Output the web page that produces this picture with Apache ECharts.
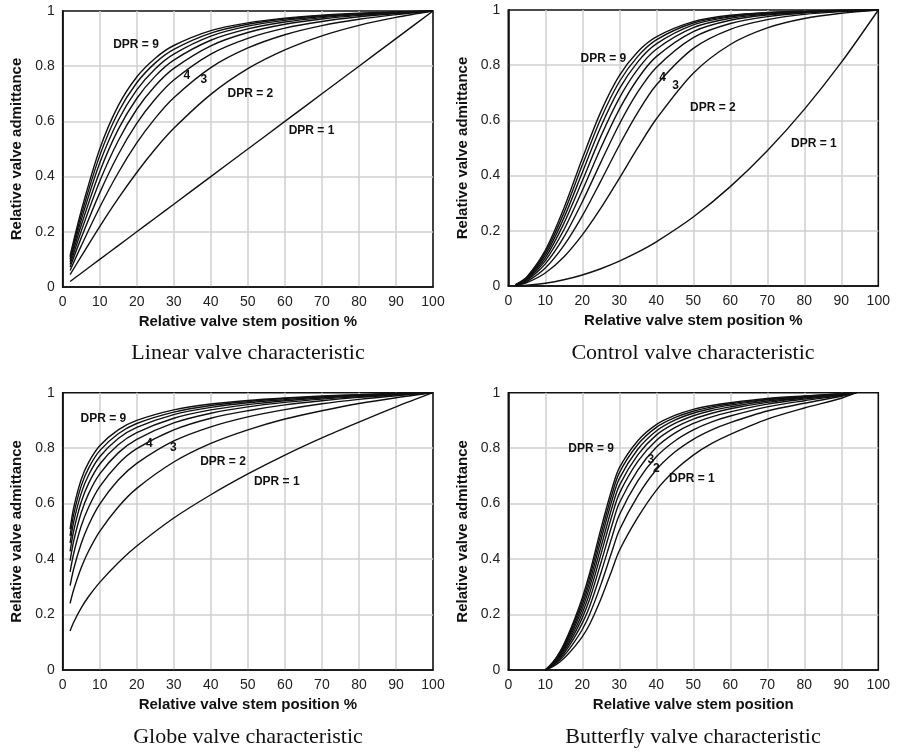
<!DOCTYPE html>
<html>
<head>
<meta charset="utf-8">
<script src="https://cdn.jsdelivr.net/npm/echarts@6/dist/echarts.min.js"></script>
<style>
html,body{margin:0;padding:0;background:#fff;}
#chart{width:898px;height:752px;}
</style>
</head>
<body>
<div id="chart"></div>
<script>
// ---------- data ----------
const xTicks = [0,10,20,30,40,50,60,70,80,90,100];
const yTicks = [0,0.2,0.4,0.6,0.8,1];

// Linear valve characteristic
const linX = [2,5,10,15,20,25,30,40,50,60,70,80,90,100];
const lin1 = [0.02,0.05,0.1,0.15,0.2,0.25,0.3,0.4,0.5,0.6,0.7,0.8,0.9,1];
const lin2 = [0.045,0.111,0.219,0.321,0.415,0.5,0.575,0.698,0.791,0.859,0.910,0.948,0.977,1];
const lin3 = [0.060,0.149,0.289,0.414,0.522,0.612,0.686,0.795,0.866,0.914,0.947,0.970,0.987,1];
const lin4 = [0.072,0.178,0.341,0.480,0.593,0.681,0.750,0.844,0.901,0.938,0.962,0.979,0.991,1];
const lin5 = [0.082,0.202,0.383,0.530,0.644,0.729,0.792,0.874,0.922,0.952,0.971,0.984,0.993,1];
const lin6 = [0.091,0.224,0.418,0.571,0.683,0.764,0.822,0.894,0.935,0.960,0.976,0.987,0.995,1];
const lin7 = [0.100,0.243,0.449,0.604,0.714,0.791,0.844,0.909,0.945,0.966,0.980,0.989,0.995,1];
const lin8 = [0.107,0.260,0.476,0.633,0.740,0.812,0.861,0.920,0.952,0.971,0.983,0.990,0.996,1];
const lin9 = [0.114,0.276,0.500,0.657,0.761,0.829,0.875,0.929,0.957,0.974,0.985,0.992,0.997,1];
const linNotes = [['DPR = 9',19.8,0.879],['4',33.5,0.764],['3',38.1,0.750],['DPR = 2',50.7,0.700],['DPR = 1',67.2,0.565]];

// Control valve characteristic
const ctlX = [2,5,10,15,20,25,30,35,40,50,60,70,80,90,100];
const ctl1 = [0.0004,0.0025,0.01,0.0225,0.04,0.0625,0.09,0.1225,0.16,0.25,0.36,0.49,0.64,0.81,1];
const ctl2 = [0.002,0.012,0.047,0.105,0.185,0.282,0.390,0.501,0.605,0.771,0.875,0.935,0.969,0.988,1];
const ctl3 = [0.003,0.016,0.065,0.146,0.254,0.380,0.510,0.629,0.728,0.861,0.930,0.965,0.984,0.994,1];
const ctl4 = [0.003,0.020,0.080,0.177,0.305,0.448,0.586,0.703,0.792,0.900,0.951,0.976,0.989,0.996,1];
const ctl5 = [0.004,0.023,0.092,0.203,0.346,0.500,0.640,0.751,0.831,0.922,0.963,0.982,0.992,0.997,1];
const ctl6 = [0.004,0.026,0.102,0.226,0.381,0.542,0.681,0.786,0.858,0.936,0.970,0.985,0.993,0.998,1];
const ctl7 = [0.005,0.028,0.112,0.246,0.411,0.577,0.714,0.812,0.877,0.946,0.975,0.988,0.994,0.998,1];
const ctl8 = [0.005,0.030,0.121,0.264,0.438,0.606,0.740,0.832,0.892,0.953,0.978,0.990,0.995,0.998,1];
const ctl9 = [0.005,0.033,0.129,0.281,0.462,0.631,0.762,0.849,0.903,0.958,0.981,0.991,0.996,0.999,1];
const ctlNotes = [['DPR = 9',25.7,0.822],['4',41.7,0.756],['3',45.2,0.725],['DPR = 2',55.3,0.646],['DPR = 1',82.6,0.514]];

// Globe valve characteristic
const glbX = [2,3,5,7,10,15,20,30,40,50,60,70,80,90,100];
const glb1 = [0.141,0.173,0.224,0.265,0.316,0.387,0.447,0.548,0.632,0.707,0.775,0.837,0.894,0.949,1];
const glb2 = [0.240,0.291,0.369,0.429,0.500,0.588,0.655,0.750,0.817,0.866,0.905,0.935,0.961,0.982,1];
const glb3 = [0.304,0.366,0.456,0.523,0.598,0.685,0.745,0.826,0.877,0.913,0.939,0.960,0.976,0.989,1];
const glb4 = [0.354,0.422,0.519,0.587,0.661,0.743,0.798,0.866,0.908,0.935,0.956,0.971,0.983,0.992,1];
const glb5 = [0.394,0.467,0.567,0.636,0.707,0.783,0.832,0.891,0.926,0.949,0.965,0.977,0.986,0.994,1];
const glb6 = [0.428,0.504,0.606,0.673,0.742,0.812,0.856,0.908,0.938,0.957,0.971,0.981,0.989,0.995,1];
const glb7 = [0.458,0.536,0.637,0.703,0.769,0.835,0.875,0.921,0.947,0.964,0.975,0.984,0.991,0.996,1];
const glb8 = [0.484,0.563,0.664,0.728,0.791,0.852,0.889,0.930,0.954,0.968,0.979,0.986,0.992,0.996,1];
const glb9 = [0.508,0.587,0.687,0.749,0.809,0.866,0.900,0.938,0.959,0.972,0.981,0.988,0.993,0.997,1];
const glbNotes = [['DPR = 9',11.0,0.906],['4',23.4,0.816],['3',29.9,0.800],['DPR = 2',43.3,0.750],['DPR = 1',57.8,0.678]];

// Butterfly valve characteristic
const bfyX = [10,12,14,16,18,20,22,25,28,30,35,40,45,50,55,60,70,80,90,94];
const bfy1 = [0,0.012,0.030,0.055,0.085,0.120,0.165,0.255,0.360,0.430,0.550,0.648,0.720,0.775,0.817,0.850,0.905,0.945,0.980,1];
const bfy2 = [0,0.015,0.037,0.067,0.104,0.146,0.201,0.307,0.427,0.504,0.628,0.722,0.786,0.832,0.866,0.892,0.934,0.962,0.987,1];
const bfy3 = [0,0.017,0.042,0.078,0.120,0.169,0.230,0.349,0.479,0.559,0.682,0.769,0.826,0.866,0.895,0.916,0.949,0.971,0.990,1];
const bfy4 = [0,0.019,0.047,0.087,0.134,0.188,0.256,0.385,0.521,0.602,0.721,0.803,0.854,0.889,0.913,0.931,0.959,0.977,0.992,1];
const bfy5 = [0,0.021,0.052,0.095,0.146,0.205,0.278,0.416,0.556,0.636,0.752,0.828,0.874,0.905,0.926,0.942,0.965,0.981,0.993,1];
const bfy6 = [0,0.022,0.056,0.103,0.158,0.221,0.299,0.442,0.585,0.665,0.776,0.847,0.889,0.917,0.936,0.949,0.970,0.983,0.994,1];
const bfy7 = [0,0.024,0.060,0.110,0.168,0.235,0.317,0.467,0.611,0.690,0.796,0.862,0.901,0.926,0.943,0.955,0.974,0.985,0.995,1];
const bfy8 = [0,0.026,0.064,0.116,0.178,0.248,0.334,0.488,0.633,0.711,0.813,0.875,0.910,0.933,0.949,0.960,0.976,0.987,0.996,1];
const bfy9 = [0,0.027,0.067,0.122,0.187,0.261,0.350,0.508,0.653,0.729,0.827,0.885,0.918,0.940,0.954,0.964,0.979,0.988,0.996,1];
const bfyNotes = [['DPR = 9',22.4,0.798],['3',38.5,0.760],['2',40.0,0.726],['DPR = 1',49.6,0.690]];

const xTitles = ['Relative valve stem position %','Relative valve stem position %','Relative valve stem position %','Relative valve stem position'];
const yTitle = 'Relative valve admittance';
const captions = ['Linear valve characteristic','Control valve characteristic','Globe valve characteristic','Butterfly valve characteristic'];

// ---------- build ----------
const panels = [
  {x: linX, ys: [lin1,lin2,lin3,lin4,lin5,lin6,lin7,lin8,lin9], notes: linNotes},
  {x: ctlX, ys: [ctl1,ctl2,ctl3,ctl4,ctl5,ctl6,ctl7,ctl8,ctl9], notes: ctlNotes},
  {x: glbX, ys: [glb1,glb2,glb3,glb4,glb5,glb6,glb7,glb8,glb9], notes: glbNotes},
  {x: bfyX, ys: [bfy1,bfy2,bfy3,bfy4,bfy5,bfy6,bfy7,bfy8,bfy9], notes: bfyNotes}
];

const SANS = '"Liberation Sans", Arial, Helvetica, sans-serif';
const SERIF = '"Liberation Serif", "Times New Roman", serif';

const grids = [
  {left: 62.7, top: 11, width: 370.3, height: 276},
  {left: 508.3, top: 10, width: 370, height: 276},
  {left: 62.7, top: 392.7, width: 370.3, height: 277.3},
  {left: 508.3, top: 392.7, width: 370, height: 277.3}
].map(g => Object.assign({show: true, borderColor: '#111', borderWidth: 1.6, backgroundColor: 'transparent', containLabel: false}, g));

const xAxes = [], yAxes = [], series = [];
panels.forEach((p, i) => {
  xAxes.push({
    type: 'value', gridIndex: i, min: xTicks[0], max: xTicks[xTicks.length-1], interval: 10,
    name: xTitles[i], nameLocation: 'middle', nameGap: 27,
    nameTextStyle: {fontFamily: SANS, fontWeight: 'bold', fontSize: 15, color: '#111'},
    axisLine: {show: true, lineStyle: {color: '#111', width: 1.6}},
    axisTick: {show: false},
    axisLabel: {fontFamily: SANS, fontSize: 14, color: '#222', margin: 8},
    splitLine: {show: true, showMinLine: false, showMaxLine: false, lineStyle: {color: '#cfcfcf', width: 1.5}}
  });
  yAxes.push({
    type: 'value', gridIndex: i, min: yTicks[0], max: yTicks[yTicks.length-1], interval: 0.2,
    name: yTitle, nameLocation: 'middle', nameGap: 38,
    nameTextStyle: {fontFamily: SANS, fontWeight: 'bold', fontSize: 15, color: '#111'},
    axisLine: {show: true, lineStyle: {color: '#111', width: 1.6}},
    axisTick: {show: false},
    axisLabel: {fontFamily: SANS, fontSize: 14, color: '#222', margin: 8},
    splitLine: {show: true, showMinLine: false, showMaxLine: false, lineStyle: {color: '#cfcfcf', width: 1.5}}
  });
  p.ys.forEach(ys => {
    series.push({
      type: 'line', xAxisIndex: i, yAxisIndex: i,
      data: p.x.map((xv, k) => [xv, ys[k]]),
      showSymbol: false, symbol: 'none', smooth: 0.3,
      lineStyle: {color: '#111', width: 1.4}, z: 3, silent: true
    });
  });
  series.push({
    type: 'scatter', xAxisIndex: i, yAxisIndex: i, symbolSize: 1, z: 5, silent: true,
    itemStyle: {color: '#fff', opacity: 0},
    data: p.notes.map(n => ({name: n[0], value: [n[1], n[2]]})),
    label: {show: true, position: 'inside', formatter: '{b}', fontFamily: SANS, fontWeight: 'bold', fontSize: 12,
            color: '#111', textBorderWidth: 0, textBorderColor: 'transparent', opacity: 1}
  });
});

const centers = [[248, 353], [693, 353], [248, 737], [693, 737]];
const graphics = captions.map((c, i) => ({
  type: 'text', x: centers[i][0], y: centers[i][1],
  style: {text: c, font: '22px ' + SERIF, fill: '#111', textAlign: 'center', textVerticalAlign: 'middle'}
}));

const chart = echarts.init(document.getElementById('chart'), null, {renderer: 'canvas'});
chart.setOption({
  animation: false,
  backgroundColor: '#fff',
  grid: grids,
  xAxis: xAxes,
  yAxis: yAxes,
  series: series,
  graphic: graphics
});
</script>
</body>
</html>
